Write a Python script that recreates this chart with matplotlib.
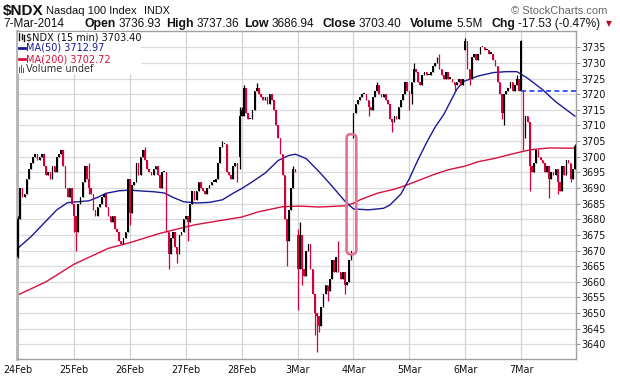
import matplotlib
matplotlib.use("Agg")
import matplotlib.pyplot as plt
import numpy as np
from matplotlib.patches import FancyBboxPatch, Rectangle
from matplotlib.lines import Line2D

# ---------------- data ----------------
day_labels = ["24Feb", "25Feb", "26Feb", "27Feb", "28Feb", "3Mar", "4Mar", "5Mar", "6Mar", "7Mar"]
bars_per_day = 26

close_24feb = [3680, 3690, 3687, 3688, 3693, 3696, 3698, 3700, 3701, 3699, 3700, 3701, 3697,
               3694, 3695, 3693, 3697, 3695, 3700, 3701, 3702, 3697, 3690, 3687, 3690, 3685]
close_25feb = [3681, 3676, 3685, 3687, 3692, 3697, 3693, 3690, 3688, 3683, 3681, 3684, 3685,
               3687, 3688, 3684, 3681, 3679, 3681, 3677, 3676, 3673, 3672, 3674, 3676, 3693]
close_26feb = [3682, 3691, 3692, 3698, 3694, 3700, 3702, 3699, 3696, 3695, 3694, 3696, 3697,
               3694, 3690, 3695, 3695, 3676, 3669, 3674, 3676, 3671, 3669, 3675, 3676, 3680]
close_27feb = [3681, 3679, 3685, 3689, 3686, 3689, 3692, 3690, 3689, 3688, 3690, 3691, 3692,
               3692, 3693, 3698, 3703, 3704, 3704, 3695, 3694, 3693, 3697, 3698, 3696, 3713]
close_28feb = [3713, 3722, 3714, 3712, 3712, 3715, 3721, 3722, 3720, 3719, 3718, 3719, 3717,
               3720, 3718, 3715, 3710, 3706, 3701, 3694, 3680, 3673, 3683, 3690, 3696, 3695]
close_3mar = [3664, 3675, 3664, 3662, 3670, 3672, 3664, 3656, 3650, 3649, 3646, 3652, 3656,
              3659, 3657, 3661, 3667, 3663, 3668, 3663, 3661, 3663, 3659, 3660, 3667, 3670]
close_4mar = [3714, 3717, 3718, 3719, 3720, 3720, 3718, 3716, 3715, 3719, 3721, 3723, 3720,
              3719, 3720, 3718, 3717, 3712, 3711, 3713, 3712, 3716, 3718, 3720, 3724, 3721]
close_5mar = [3720, 3724, 3728, 3727, 3724, 3723, 3726, 3727, 3726, 3726, 3727, 3729, 3730,
              3731, 3728, 3726, 3725, 3727, 3725, 3725, 3724, 3723, 3724, 3725, 3723, 3725]
close_6mar = [3737, 3728, 3725, 3732, 3733, 3731, 3733, 3735, 3735, 3734, 3734, 3733, 3733,
              3731, 3729, 3724, 3720, 3714, 3720, 3721, 3722, 3724, 3721, 3723, 3725, 3721]
close_7mar = [3721, 3706, 3713, 3711, 3697, 3695, 3698, 3702, 3700, 3699, 3698, 3695, 3697,
              3693, 3695, 3694, 3696, 3692, 3689, 3697, 3694, 3699, 3698, 3693, 3696, 3703.40]

# opens that differ from the previous close (bar index -> open)
gap_opens = {0: 3668, 103: 3700, 104: 3715, 130: 3675, 156: 3707, 208: 3734, 234: 3736.93}

# wicks reaching beyond the body (bar index -> (low, high))
wicks = {0: (3667.5, 3681), 26: (3676, 3685), 27: (3670, 3681), 33: (3688, 3698),
         52: (3678, 3693), 59: (3699, 3703), 70: (3664, 3676), 74: (3666, 3671),
         79: (3673, 3681), 95: (3703, 3705), 102: (3692, 3698), 103: (3696, 3716),
         104: (3713, 3716), 105: (3713, 3723), 111: (3721, 3723.5), 125: (3665, 3680),
         128: (3690, 3697), 130: (3651, 3677), 131: (3664, 3679), 132: (3659, 3675),
         138: (3643, 3656), 139: (3637.5, 3650), 140: (3644, 3649), 144: (3654, 3659),
         149: (3663, 3673), 152: (3656, 3663), 156: (3706, 3714), 163: (3713, 3718),
         167: (3721, 3724), 174: (3708, 3712), 182: (3715, 3721), 183: (3717, 3724),
         184: (3724, 3730), 195: (3730, 3732), 196: (3728, 3733), 203: (3721, 3724),
         208: (3734, 3738), 209: (3728, 3737), 210: (3723, 3728), 225: (3712, 3720),
         226: (3710, 3720), 232: (3723, 3726), 234: (3721, 3737.36), 235: (3702, 3721),
         238: (3689, 3711), 247: (3686.94, 3697), 251: (3688, 3696), 257: (3692, 3698),
         259: (3696, 3704)}

ma50_idx = [0, 6, 12, 18, 23, 28, 33, 37, 41, 47, 52, 58, 63, 68, 72, 77, 83, 89, 95, 100,
            104, 109, 115, 121, 126, 129, 134, 140, 146, 152, 156, 163, 170, 173, 178, 182,
            186, 190, 194, 198, 201, 204, 207, 214, 221, 227, 232, 237, 244, 250, 259]
ma50_val = [3670.8, 3674.4, 3678.7, 3683.0, 3685.3, 3685.6, 3685.9, 3687.0, 3688.3, 3689.1,
            3689.3, 3689.0, 3688.8, 3688.4, 3687.0, 3685.6, 3685.2, 3685.4, 3686.2, 3688.3,
            3689.8, 3692.0, 3694.8, 3698.8, 3700.4, 3700.8, 3699.4, 3695.2, 3690.6, 3685.8,
            3683.3, 3683.0, 3683.5, 3684.6, 3688.0, 3693.0, 3699.0, 3704.5, 3709.5, 3713.5,
            3717.5, 3721.5, 3724.0, 3725.8, 3726.9, 3727.2, 3727.2, 3725.1, 3721.4, 3717.6,
            3712.97]

ma200_idx = [0, 13, 26, 42, 52, 66, 82, 104, 112, 123, 131, 140, 152, 156, 159, 167, 175,
             181, 187, 193, 200, 208, 214, 222, 230, 238, 247, 259]
ma200_val = [3655.8, 3660.0, 3665.6, 3670.7, 3672.5, 3675.5, 3678.2, 3680.7, 3682.4, 3684.0,
             3684.2, 3683.9, 3684.3, 3685.1, 3686.2, 3688.3, 3689.6, 3691.0, 3692.6, 3694.2,
             3695.8, 3697.0, 3698.4, 3699.5, 3700.9, 3702.2, 3702.8, 3702.72]

prev_close_7mar = 3720.93
y_ticks = list(range(3640, 3736, 5))
highlight_box = (152.8, 157.3, 3668.8, 3707.2)   # x0, x1, y0, y1 in data units

header_date = "7-Mar-2014"
header_pairs = [("Open", "3736.93"), ("High", "3737.36"), ("Low", "3686.94"),
                ("Close", "3703.40"), ("Volume", "5.5M"), ("Chg", "-17.53 (-0.47%)")]

# ---------------- figure ----------------
W, H = 620, 376
fig = plt.figure(figsize=(W / 100, H / 100), dpi=100)
fig.patch.set_facecolor("white")

def fx(px):
    return px / W

def fy(py):
    return 1 - py / H

ax_l, ax_r, ax_t, ax_b = 17, 576, 31, 359
ax = fig.add_axes([fx(ax_l), fy(ax_b), fx(ax_r - ax_l), (ax_b - ax_t) / H])

closes = np.array(close_24feb + close_25feb + close_26feb + close_27feb + close_28feb +
                  close_3mar + close_4mar + close_5mar + close_6mar + close_7mar, dtype=float)
n = len(closes)
xk = np.arange(n)
prev = np.r_[closes[0] - 1, closes[:-1]]
opens = np.r_[closes[0], closes[:-1]].copy()
for k, v in gap_opens.items():
    opens[k] = v
lows = np.minimum(opens, closes)
highs = np.maximum(opens, closes)
for k, (lo, hi) in wicks.items():
    lows[k] = min(lo, lows[k])
    highs[k] = max(hi, highs[k])

BLACK = "#000000"
RED = "#d4003a"
colors = [BLACK if c >= p else RED for c, p in zip(closes, prev)]

ax.set_xlim(-0.5, n - 0.5)
ax.set_ylim(3635.3, 3740.2)

# grid
for t in y_ticks:
    ax.axhline(t, color="#dcdcdc", lw=0.9, zorder=0)
for d in range(len(day_labels)):
    ax.axvline(d * bars_per_day, color="#d4d4d4", lw=0.9, zorder=0)

# MAs
ax.plot(ma200_idx, ma200_val, color="#d8103e", lw=1.0, zorder=2)
ax.plot(ma50_idx, ma50_val, color="#1a1a96", lw=1.0, zorder=2)

# candles
ax.vlines(xk, lows, highs, colors=colors, lw=0.9, zorder=3)
body_lo = np.minimum(opens, closes)
body_h = np.maximum(np.abs(closes - opens), 0.45)
ax.bar(xk, body_h, bottom=body_lo, width=0.75, color=colors, linewidth=0, zorder=3)

# previous close dashed line
ax.plot([9 * bars_per_day, n - 0.5], [prev_close_7mar, prev_close_7mar],
        color="#1e3cff", lw=1.2, ls=(0, (3, 2)), zorder=4)

# highlight rounded box
x0, x1, y0, y1 = highlight_box
asp = (1 / 3.126) / (1 / 2.15)
box = FancyBboxPatch((x0, y0), x1 - x0, y1 - y0,
                     boxstyle="round,pad=0,rounding_size=1.9", mutation_aspect=asp,
                     fill=False, ec="#e2708f", lw=1.9, zorder=5)
ax.add_patch(box)

# axes styling
for s in ["top", "right", "bottom"]:
    ax.spines[s].set_color("#a0a0a0")
    ax.spines[s].set_linewidth(1.0)
ax.spines["left"].set_color("#b4b4b4")
ax.spines["left"].set_linewidth(2.0)

ax.yaxis.tick_right()
ax.set_yticks(y_ticks)
ax.set_yticklabels([str(t) for t in y_ticks], fontsize=6.9, family="DejaVu Sans")
ax.tick_params(axis="y", length=3, color="#999999", pad=1, labelcolor="#111111")
ax.set_xticks([d * bars_per_day for d in range(len(day_labels))])
ax.set_xticklabels(day_labels, fontsize=6.9, family="DejaVu Sans")
ax.tick_params(axis="x", length=0, pad=4, labelcolor="#111111")

# legend (white background)
ax.add_patch(Rectangle((fx(ax_l + 1), fy(74)), fx(123), (74 - ax_t - 1) / H,
                       transform=fig.transFigure, facecolor="white", edgecolor="none",
                       zorder=6, clip_on=False))
leg_font = dict(fontsize=7.0, family="DejaVu Sans", va="center", zorder=7)
fig.text(fx(26), fy(37), "$NDX (15 min) 3703.40", color="#111111", **leg_font)
fig.text(fx(26), fy(48), "MA(50) 3712.97", color="#1a1a96", **leg_font)
fig.text(fx(26), fy(59), "MA(200) 3702.72", color="#d8103e", **leg_font)
fig.text(fx(26), fy(69.5), "Volume undef", color="#333333", **leg_font)
for xi, (a, b) in zip([19.5, 21.5, 23.5], [(33, 40), (34, 39), (35, 41)]):
    fig.add_artist(Line2D([fx(xi), fx(xi)], [fy(b), fy(a)], color="#111111", lw=1.0))
fig.add_artist(Line2D([fx(19), fx(25)], [fy(48), fy(48)], color="#1a1a96", lw=2.0))
fig.add_artist(Line2D([fx(19), fx(25)], [fy(59), fy(59)], color="#d8103e", lw=2.0))
for xi, top in zip([19.5, 21.5, 23.5], [67, 65, 68]):
    fig.add_artist(Rectangle((fx(xi - 0.7), fy(73)), fx(1.4), (73 - top) / H,
                             transform=fig.transFigure, color="#555555", lw=0))

# header line 1
fig.text(fx(3), fy(11), "$NDX", fontsize=11, fontweight="bold",
         family="Liberation Sans", va="center", color="#111111")
fig.text(fx(46), fy(11.5), "Nasdaq 100 Index", fontsize=8, family="Liberation Sans",
         va="center", color="#111111")
fig.text(fx(144), fy(11.5), "INDX", fontsize=7.8, family="Liberation Sans",
         va="center", color="#111111")
fig.text(fx(607), fy(11.5), "\u00a9 StockCharts.com", fontsize=8, family="Liberation Sans",
         va="center", ha="right", color="#666666")

# header line 2
fig.canvas.draw()
renderer = fig.canvas.get_renderer()
ycen = fy(24)
fig.text(fx(3), ycen, header_date, fontsize=8.5, family="Liberation Sans",
         va="center", color="#111111")
label_x = [84, 166, 244, 322, 410, 491]
xend = 0
for (lab, val), lx in zip(header_pairs, label_x):
    t1 = fig.text(fx(lx), ycen, lab, fontsize=8.8, fontweight="bold",
                  family="Liberation Sans", va="center", color="#111111")
    bb = t1.get_window_extent(renderer)
    t2 = fig.text(fx(bb.x1 + 3), ycen, val, fontsize=8.5, family="Liberation Sans",
                  va="center", color="#111111")
    xend = t2.get_window_extent(renderer).x1
fig.text(fx(xend + 6), ycen, "\u25bc", fontsize=5.5, family="DejaVu Sans", va="center",
         color="#b0102e")

fig.savefig("out.png", dpi=100)
